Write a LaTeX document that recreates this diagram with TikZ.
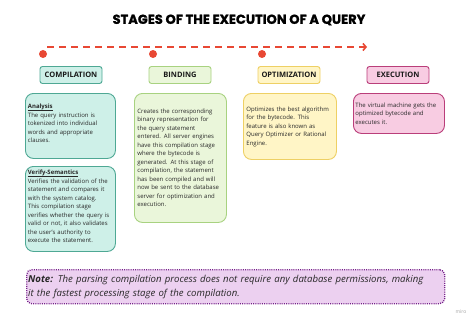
\documentclass[tikz,border=0pt]{standalone}
\usepackage{fontspec}
\setmainfont{Open Sans}
\newfontfamily\titlefont{Poppins}[BoldFeatures={FakeBold=1.3}]
\usetikzlibrary{arrows.meta}
\definecolor{redc}{RGB}{232,72,52}
\definecolor{tealf}{RGB}{206,240,232}
\definecolor{teald}{RGB}{78,168,148}
\definecolor{greenf}{RGB}{234,246,218}
\definecolor{greend}{RGB}{168,210,128}
\definecolor{yellowf}{RGB}{255,245,198}
\definecolor{yellowd}{RGB}{238,208,100}
\definecolor{pinkf}{RGB}{248,204,226}
\definecolor{pinkd}{RGB}{186,62,122}
\definecolor{notef}{RGB}{236,208,240}
\definecolor{noted}{RGB}{118,34,138}
\definecolor{txtc}{RGB}{40,40,40}
\newcommand\myul[1]{\underline{\smash{\textbf{#1}}}}
\tikzset{
  hdr/.style={draw, line width=0.9pt, rounded corners=2.5pt, minimum width=62pt, minimum height=17pt,
    inner sep=0pt, font=\fontsize{7.5}{8}\selectfont\bfseries, text=black!90},
  cbox/.style={draw, line width=0.9pt, rounded corners=8pt, anchor=north west, align=left,
    inner sep=0pt, font=\fontsize{6}{8.5}\selectfont, text=txtc},
  dot/.style={circle, fill=redc, inner sep=0pt, minimum size=8pt},
}
\begin{document}
\begin{tikzpicture}[x=1pt, y=-1pt]
\useasboundingbox (0,0) rectangle (474,329);
\fill[white] (0,0) rectangle (474,329);
% title
\node[font=\titlefont\bfseries\fontsize{13}{15}\selectfont] (title) at (239,20) {STAGES OF THE EXECUTION OF A QUERY};
% timeline
\coordinate (as) at (47,47);
\coordinate (ae) at (367,47);
\draw[redc, line width=1.6pt, dash pattern=on 7pt off 5pt, -{Straight Barb[length=3pt,width=7pt,line width=1.6pt]}] (as) -- (ae);
\node[dot] (d1) at (43,54) {};
\node[dot] (d2) at (153,54) {};
\node[dot] (d3) at (262,54) {};
% headers
\node[hdr, fill=tealf, draw=teald] (hcomp) at (71,75) {COMPILATION};
\node[hdr, fill=greenf, draw=greend] (hbind) at (180,75) {BINDING};
\node[hdr, fill=yellowf, draw=yellowd] (hopt) at (289,75) {OPTIMIZATION};
\node[hdr, fill=pinkf, draw=pinkd] (hexec) at (398,75) {EXECUTION};
% content boxes
\node[cbox, fill=tealf, draw=teald, minimum width=90pt, minimum height=65pt, text width=85pt] (ana) at (25,93)
{\myul{Analysis}\\The query instruction is\\tokenized into individual\\words and appropriate\\clauses.};
\node[cbox, fill=tealf, draw=teald, minimum width=90pt, minimum height=85pt, text width=85pt] (ver) at (25,166)
{\myul{Verify-Semantics}\\Verifies the validation of the\\statement and compares it\\with the system catalog.\\This compilation stage\\verifies whether the query is\\valid or not, it also validates\\the user's authority to\\execute the statement.};
\node[cbox, fill=greenf, draw=greend, minimum width=92pt, minimum height=129pt, text width=86pt] (bind) at (134,93)
{Creates the corresponding\\binary representation for\\the query statement\\entered. All server engines\\have this compilation stage\\where the bytecode is\\generated. At this stage of\\compilation, the statement\\has been compiled and will\\now be sent to the database\\server for optimization and\\execution.};
\node[cbox, fill=yellowf, draw=yellowd, minimum width=93pt, minimum height=66pt, text width=87pt] (opt) at (243,93)
{Optimizes the best algorithm\\for the bytecode. This\\feature is also known as\\Query Optimizer or Rational\\Engine.};
\node[cbox, fill=pinkf, draw=pinkd, minimum width=91pt, minimum height=40pt, text width=87pt] (exec) at (353,93)
{The virtual machine gets the\\optimized bytecode and\\executes it.};
% note
\node[draw=noted, fill=notef, line width=1.3pt, dash pattern=on 1pt off 1.2pt, rounded corners=5pt,
  anchor=north west, minimum width=418pt, minimum height=34pt, inner xsep=1.5pt, inner ysep=0pt, text width=415pt, align=left,
  font=\fontsize{9.6}{14}\selectfont\itshape, text=txtc] (note) at (26,269)
{\textbf{Note:} The parsing compilation process does not require any database permissions, making\\it the fastest processing stage of the compilation.};
\node[font=\fontsize{5}{6}\selectfont, text=black!35] (miro) at (461,312) {miro};
\end{tikzpicture}
\end{document}
